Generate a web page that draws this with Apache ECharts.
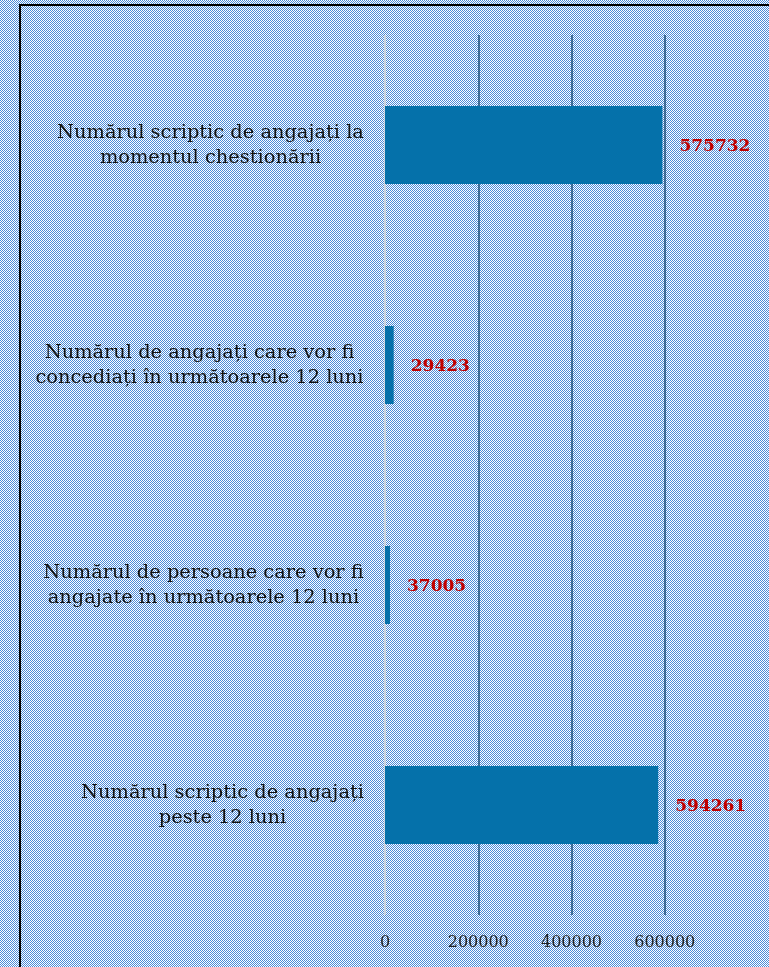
<!DOCTYPE html>
<html>
<head>
<meta charset="utf-8">
<style>
  html, body { margin: 0; padding: 0; }
  #main { width: 769px; height: 967px; }
</style>
<script src="https://cdn.jsdelivr.net/npm/echarts@6/dist/echarts.min.js"></script>
</head>
<body>
<div id="main"></div>
<script>
let categories = [
  'Numărul scriptic de angajați la\nmomentul chestionării',
  'Numărul de angajați care vor fi\nconcediați în următoarele 12 luni',
  'Numărul de persoane care vor fi\nangajate în următoarele 12 luni',
  'Numărul scriptic de angajați\npeste 12 luni'
]
// bar lengths as drawn, and the numbers printed next to them
let barValues = [595000, 18700, 10700, 586000]
let labelValues = [575732, 29423, 37005, 594261]
let axisTicks = [0, 200000, 400000, 600000, 800000]

let catSize = 19.4
let catFont = catSize + 'px "DejaVu Serif"'

// checkered background
let tile = document.createElement('canvas')
tile.width = 2
tile.height = 2
let tctx = tile.getContext('2d')
tctx.fillStyle = '#ffffff'
tctx.fillRect(0, 0, 2, 2)
tctx.fillStyle = '#4a8ad8'
tctx.fillRect(0, 0, 1, 1)
tctx.fillRect(1, 1, 1, 1)

// width of each label block, so lines can be centred inside it
let measure = document.createElement('canvas').getContext('2d')
measure.font = catFont
let rich = {}
categories.forEach((c, i) => {
  let w = Math.max(...c.split('\n').map(s => measure.measureText(s).width))
  rich['r' + i] = { width: Math.ceil(w), align: 'center', fontFamily: 'DejaVu Serif', fontSize: catSize, lineHeight: 25, color: '#111' }
})

let chart = echarts.init(document.getElementById('main'))
chart.setOption({
  backgroundColor: { image: tile, repeat: 'repeat' },
  animation: false,
  grid: { left: 385, right: 11, top: 35, bottom: 52, containLabel: false },
  xAxis: {
    type: 'value',
    min: axisTicks[0],
    max: axisTicks[axisTicks.length - 1],
    interval: 200000,
    axisLine: { show: false },
    axisTick: { show: false },
    axisLabel: {
      showMaxLabel: false,
      margin: 20,
      formatter: v => String(v),
      fontFamily: 'DejaVu Serif',
      fontSize: 16,
      color: '#222'
    },
    splitLine: {
      show: true,
      lineStyle: {
        width: 1.5,
        color: ['#d9d9d9', '#1f4e79', '#1f4e79', '#1f4e79', 'rgba(0,0,0,0)']
      }
    }
  },
  yAxis: {
    type: 'category',
    inverse: true,
    data: categories,
    axisLine: { show: false },
    axisTick: { show: false },
    axisLabel: {
      margin: 21,
      formatter: (v, i) => v.split('\n').map(s => '{r' + i + '|' + s + '}').join('\n'),
      rich
    }
  },
  series: [{
    type: 'bar',
    data: barValues,
    barWidth: 78,
    itemStyle: { color: '#0571aa' },
    label: {
      show: true,
      position: 'right',
      distance: 17,
      offset: [0, 2],
      formatter: p => String(labelValues[p.dataIndex]),
      fontFamily: 'DejaVu Serif',
      fontWeight: 'bold',
      fontSize: 17,
      color: '#c00000'
    }
  }],
  graphic: [{
    type: 'rect',
    shape: { x: 20, y: 5, width: 800, height: 1000 },
    style: { fill: 'none', stroke: '#000', lineWidth: 2 },
    silent: true
  }]
})
</script>
</body>
</html>
